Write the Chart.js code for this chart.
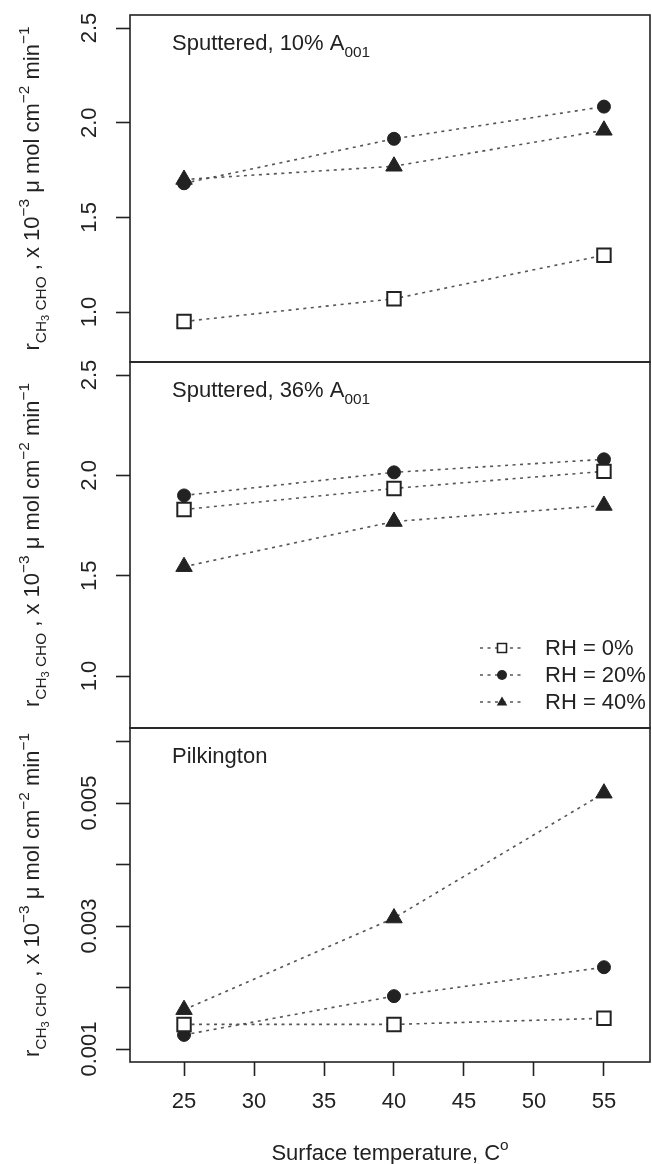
<!DOCTYPE html>
<html>
<head>
<meta charset="utf-8">
<script src="https://cdn.jsdelivr.net/npm/chart.js@4/dist/chart.umd.min.js"></script>
<style>
  html, body { margin: 0; padding: 0; background: #fff; }
  #wrap { position: relative; width: 652px; height: 1164px; overflow: hidden; }
  #wrap canvas { position: absolute; left: 0; }
</style>
</head>
<body>
<div id="wrap">
  <canvas id="panel1" width="652" height="375" style="top:0px"></canvas>
  <canvas id="panel2" width="652" height="390" style="top:350px"></canvas>
  <canvas id="panel3" width="652" height="448" style="top:716px"></canvas>
</div>
<script>
/* Data */

const temps = [25, 40, 55];
const xTicks = [25, 30, 35, 40, 45, 50, 55];
const rhLabels = ['RH = 0%', 'RH = 20%', 'RH = 40%'];

// Sputtered, 10% A001
const sp10Rh0 = [0.95, 1.07, 1.30];
const sp10Rh20 = [1.68, 1.915, 2.085];
const sp10Rh40 = [1.70, 1.77, 1.96];

// Sputtered, 36% A001
const sp36Rh0 = [1.83, 1.935, 2.02];
const sp36Rh20 = [1.90, 2.015, 2.08];
const sp36Rh40 = [1.545, 1.77, 1.85];

// Pilkington
const pilRh0 = [0.0014, 0.0014, 0.0015];
const pilRh20 = [0.00123, 0.00186, 0.00233];
const pilRh40 = [0.00164, 0.00313, 0.00516];

const yTicksSput = [1.0, 1.5, 2.0, 2.5];
const yTicksPil = [0.001, 0.002, 0.003, 0.004, 0.005, 0.006];
const yLabelsPil = ['0.001', '', '0.003', '', '0.005', ''];

/* Styles */

const FONT = '"Liberation Sans", Arial, Helvetica, sans-serif';
const INK = '#222';
const LINE = '#555';

const markerStyles = [
  { pointStyle: 'rect', pointRadius: 9.5, pointBackgroundColor: '#fff', pointBorderWidth: 2 },
  { pointStyle: 'circle', pointRadius: 6.5, pointBackgroundColor: INK, pointBorderWidth: 1 },
  { pointStyle: 'triangle', pointRadius: 9.5, pointBackgroundColor: INK, pointBorderWidth: 1 }
];

function makeDatasets(seriesList) {
  return seriesList.map(function(vals, i) {
    return Object.assign({
      label: rhLabels[i],
      data: temps.map(function(t, j) { return { x: t, y: vals[j] }; }),
      borderColor: LINE,
      borderWidth: 1.6,
      borderDash: [3, 4.5],
      pointBorderColor: INK,
      fill: false,
      tension: 0
    }, markerStyles[i]);
  });
}

const yTitleParts = [
  { t: 'r', k: 'n' }, { t: 'CH', k: 'sub' }, { t: '3', k: 'subsub' }, { t: ' CHO', k: 'sub' },
  { t: ' , x 10', k: 'n' }, { t: '\u22123', k: 'sup' },
  { t: ' \u03bc mol cm', k: 'n' }, { t: '\u22122', k: 'sup' },
  { t: ' min', k: 'n' }, { t: '\u22121', k: 'sup' }
];

/* Rich text helpers (sub/superscripts) */

function partFont(k, size) {
  let s = size;
  if (k === 'sub' || k === 'sup') s = size * 0.7;
  if (k === 'subsub') s = size * 0.5;
  return s.toFixed(1) + 'px ' + FONT;
}

function partShift(k, size) {
  if (k === 'sub') return size * 0.3;
  if (k === 'subsub') return size * 0.45;
  if (k === 'sup') return -size * 0.45;
  return 0;
}

function richWidth(ctx, parts, size) {
  let w = 0;
  parts.forEach(function(p) {
    ctx.font = partFont(p.k, size);
    w += ctx.measureText(p.t).width;
  });
  return w;
}

function drawRich(ctx, parts, size, x, y) {
  ctx.textBaseline = 'alphabetic';
  ctx.textAlign = 'left';
  parts.forEach(function(p) {
    ctx.font = partFont(p.k, size);
    ctx.fillText(p.t, x, y + partShift(p.k, size));
    x += ctx.measureText(p.t).width;
  });
}

function drawMarker(ctx, style, x, y, r) {
  ctx.beginPath();
  if (style === 'rect') {
    ctx.rect(x - r, y - r, 2 * r, 2 * r);
    ctx.fillStyle = '#fff';
    ctx.fill();
    ctx.lineWidth = 1.6;
    ctx.strokeStyle = INK;
    ctx.stroke();
  } else if (style === 'circle') {
    ctx.arc(x, y, r, 0, Math.PI * 2);
    ctx.fillStyle = INK;
    ctx.fill();
  } else {
    ctx.moveTo(x, y - r * 1.1);
    ctx.lineTo(x + r * 1.05, y + r * 0.7);
    ctx.lineTo(x - r * 1.05, y + r * 0.7);
    ctx.closePath();
    ctx.fillStyle = INK;
    ctx.fill();
  }
}

/* Plugin: box, panel title, y title, legend, x title */

const panelDecor = {
  id: 'panelDecor',
  afterDraw: function(chart, args, opts) {
    const ctx = chart.ctx;
    const area = chart.chartArea;
    ctx.save();

    // box
    ctx.strokeStyle = INK;
    ctx.lineWidth = 1.6;
    ctx.setLineDash([]);
    ctx.strokeRect(area.left, area.top, area.right - area.left, area.bottom - area.top);

    ctx.fillStyle = INK;

    // panel title
    drawRich(ctx, opts.title, 22, area.left + 42, area.top + 35);

    // y axis title, rotated
    const tw = richWidth(ctx, yTitleParts, 22);
    ctx.save();
    ctx.translate(39, (area.top + area.bottom) / 2);
    ctx.rotate(-Math.PI / 2);
    ctx.fillStyle = INK;
    drawRich(ctx, yTitleParts, 22, -tw / 2, 0);
    ctx.restore();

    // legend
    if (opts.legend) {
      const rowOffsets = [-80, -53, -26];
      chart.data.datasets.forEach(function(ds, i) {
        const y = area.bottom + rowOffsets[i];
        ctx.save();
        ctx.strokeStyle = LINE;
        ctx.lineWidth = 1.6;
        ctx.setLineDash([3, 4.5]);
        ctx.beginPath();
        ctx.moveTo(480, y);
        ctx.lineTo(525, y);
        ctx.stroke();
        ctx.setLineDash([]);
        drawMarker(ctx, ds.pointStyle, 502, y, ds.pointStyle === 'rect' ? 4.5 : 5);
        ctx.restore();
        ctx.fillStyle = INK;
        ctx.font = '22px ' + FONT;
        ctx.textAlign = 'left';
        ctx.textBaseline = 'middle';
        ctx.fillText(ds.label, 545, y + 1);
      });
    }

    // x axis title
    if (opts.xTitle) {
      const xParts = [{ t: 'Surface temperature, C', k: 'n' }, { t: 'o', k: 'sup' }];
      const xw = richWidth(ctx, xParts, 22);
      ctx.fillStyle = INK;
      drawRich(ctx, xParts, 22, (area.left + area.right) / 2 - xw / 2, chart.height - 4);
    }
    ctx.restore();
  }
};

function noScalePadding(scale) {
  scale.paddingTop = 0;
  scale.paddingBottom = 0;
  scale.paddingLeft = 0;
  scale.paddingRight = 0;
}

function makeChart(canvasId, datasets, cfg) {
  return new Chart(document.getElementById(canvasId), {
    type: 'line',
    data: { datasets: datasets },
    options: {
      responsive: false,
      animation: false,
      devicePixelRatio: 1,
      layout: {
        autoPadding: false,
        padding: { top: cfg.padTop, bottom: cfg.padBottom, left: 0, right: 2 }
      },
      plugins: {
        legend: { display: false },
        tooltip: { enabled: false },
        panelDecor: { title: cfg.title, legend: cfg.legend, xTitle: cfg.showX }
      },
      scales: {
        x: {
          type: 'linear',
          min: 21.14,
          max: 58.29,
          display: cfg.showX,
          afterBuildTicks: function(scale) {
            scale.ticks = xTicks.map(function(v) { return { value: v }; });
          },
          afterFit: function(scale) {
            scale.height = cfg.xHeight || 0;
            noScalePadding(scale);
          },
          grid: { display: true, drawOnChartArea: false, drawTicks: true, tickLength: 14, tickColor: INK, tickWidth: 1.6 },
          border: { display: false },
          ticks: { color: INK, font: { size: 22, family: FONT }, padding: 13, maxRotation: 0 }
        },
        y: {
          type: 'linear',
          min: cfg.yMin,
          max: cfg.yMax,
          afterBuildTicks: function(scale) {
            scale.ticks = cfg.yTicks.map(function(v) { return { value: v }; });
          },
          afterFit: function(scale) {
            scale.width = 130;
            noScalePadding(scale);
          },
          grid: { display: true, drawOnChartArea: false, drawTicks: true, tickLength: 14, tickColor: INK, tickWidth: 1.6 },
          border: { display: false },
          ticks: {
            color: INK,
            font: { size: 22, family: FONT },
            padding: cfg.yPad,
            minRotation: 90,
            maxRotation: 90,
            crossAlign: 'center',
            callback: cfg.yLabel
          }
        }
      }
    },
    plugins: [panelDecor]
  });
}

makeChart('panel1', makeDatasets([sp10Rh0, sp10Rh20, sp10Rh40]), {
  padTop: 15, padBottom: 13, yMin: 0.736, yMax: 2.569, yTicks: yTicksSput, yPad: 11,
  yLabel: function(v) { return v.toFixed(1); },
  title: [{ t: 'Sputtered, 10% A', k: 'n' }, { t: '001', k: 'sub' }],
  legend: false, showX: false
});

makeChart('panel2', makeDatasets([sp36Rh0, sp36Rh20, sp36Rh40]), {
  padTop: 12, padBottom: 12, yMin: 0.741, yMax: 2.565, yTicks: yTicksSput, yPad: 11,
  yLabel: function(v) { return v.toFixed(1); },
  title: [{ t: 'Sputtered, 36% A', k: 'n' }, { t: '001', k: 'sub' }],
  legend: true, showX: false
});

makeChart('panel3', makeDatasets([pilRh0, pilRh20, pilRh40]), {
  padTop: 12, padBottom: 0, yMin: 0.000789, yMax: 0.00622, yTicks: yTicksPil, yPad: -1,
  yLabel: function(v, i) { return yLabelsPil[i]; },
  title: [{ t: 'Pilkington', k: 'n' }],
  legend: false, showX: true, xHeight: 102
});
</script>
</body>
</html>
